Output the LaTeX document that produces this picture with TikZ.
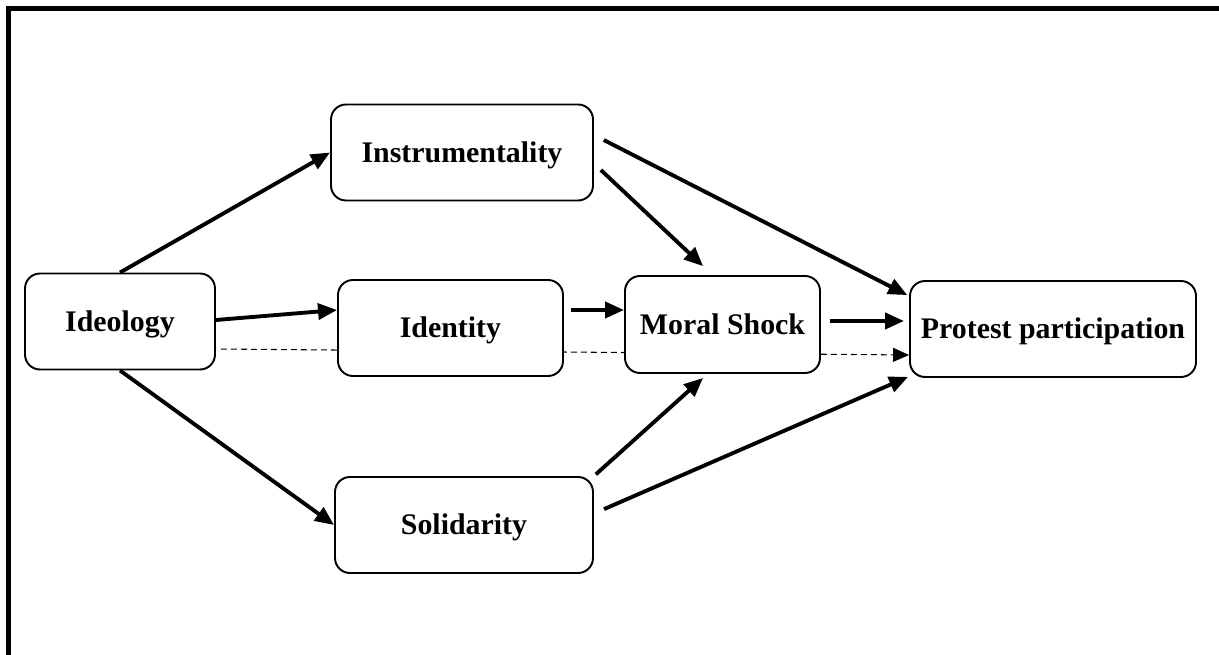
\documentclass[tikz,border=0pt]{standalone}
\usepackage{fontspec}
\setmainfont{Liberation Serif}
\usetikzlibrary{arrows.meta}
\usetikzlibrary{backgrounds}
\tikzset{
  box/.style={draw, rounded corners=0.3cm, line width=1.1pt, fill=white,
    minimum height=1.92cm, text height=0.4cm, text depth=0cm,
    font=\bfseries\fontsize{17}{20}\selectfont},
  link/.style={-{Triangle[length=0.38cm, width=0.32cm]}, line width=2.2pt},
  dashlink/.style={-{Triangle[length=0.32cm, width=0.28cm]}, line width=0.6pt,
    dash pattern=on 0.12cm off 0.08cm}
}

\begin{document}
\begin{tikzpicture}
  \useasboundingbox (0,0) rectangle (24.38,13.10);
  % frame, cut at the bottom of the page
  \draw [line width=2.6pt] (0.17,-0.3) -- (0.17,12.93) -- (24.42,12.93) -- (24.42,-0.3);

  \node [box, minimum width=3.8cm] (ideo) at (2.40, 6.67) {Ideology};
  \node [box, minimum width=5.24cm] (instr) at (9.24, 10.05) {Instrumentality};
  \node [box, minimum width=4.5cm] (iden) at (9.01, 6.54) {Identity};
  \node [box, minimum width=5.16cm] (sol) at (9.28, 2.60) {Solidarity};
  \node [box, minimum width=3.9cm, minimum height=1.94cm] (moral) at (14.45, 6.61) {Moral Shock};
  \node [box, minimum width=5.72cm] (prot) at (21.06, 6.52) {Protest participation};

  % direct path, hidden behind the boxes
  \begin{scope}[on background layer]
    \draw [dashlink, shorten <=0.1cm] ([yshift=-0.55cm]ideo.east) -- ([yshift=-0.52cm]prot.west);
  \end{scope}

  \draw [link] (ideo.north) -- (instr.west);
  \draw [link] ([yshift=0.03cm]ideo.east) -- ([yshift=0.36cm]iden.west);
  \draw [link] (ideo.south) -- (sol.west);

  \draw [link, shorten <=0.19cm, shorten >=0.26cm] ([yshift=-0.22cm]instr.east) -- ([xshift=-0.2cm]moral.north);
  \draw [link, shorten <=0.22cm, shorten >=0.04cm] ([yshift=0.35cm]instr.east) -- ([yshift=0.66cm]prot.west);
  \draw [link, shorten <=0.14cm] ([yshift=0.36cm]iden.east) -- ([yshift=0.29cm]moral.west);
  \draw [link, shorten <=0.18cm, shorten >=0.1cm] ([yshift=0.07cm]moral.east) -- ([yshift=0.16cm]prot.west);
  \draw [link, shorten <=0.05cm, shorten >=0.12cm] (sol.north east) -- ([xshift=-0.3cm]moral.south);
  \draw [link, shorten <=0.22cm, shorten >=0.02cm] ([yshift=0.23cm]sol.east) -- ([yshift=-0.95cm]prot.west);
\end{tikzpicture}
\end{document}
